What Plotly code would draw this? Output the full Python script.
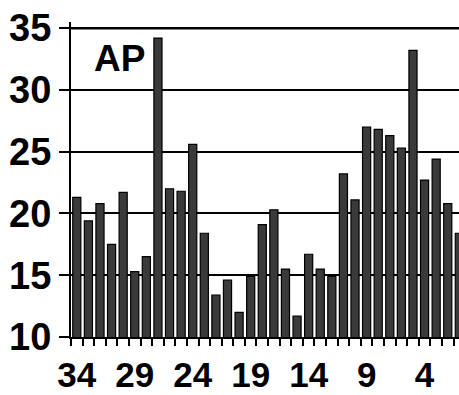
import plotly.graph_objects as go

# Categories run from 34 down to 1
categories = [str(n) for n in range(34, 0, -1)]
values = [21.3, 19.4, 20.8, 17.5, 21.7, 15.3, 16.5, 34.2, 22.0, 21.8,
          25.6, 18.4, 13.4, 14.6, 12.0, 14.9, 19.1, 20.3, 15.5, 11.7,
          16.7, 15.5, 14.9, 23.2, 21.1, 27.0, 26.8, 26.3, 25.3, 33.2,
          22.7, 24.4, 20.8, 18.4]
labelled = ["34", "29", "24", "19", "14", "9", "4"]
y_ticks = [10, 15, 20, 25, 30, 35]

tick_text = [c if c in labelled else "" for c in categories]

fig = go.Figure(
    go.Bar(
        x=categories,
        y=values,
        width=0.7,
        marker=dict(color="#3a3a3a", line=dict(color="black", width=1.2)),
    )
)

fig.add_annotation(
    text="AP", x=0.125, y=0.885, xref="paper", yref="paper",
    showarrow=False, xanchor="center", yanchor="middle",
    font=dict(family="Liberation Sans", size=37, color="black", weight="bold"),
)

# top rule at the upper end of the value scale
fig.add_shape(
    type="line", xref="x domain", x0=0, x1=1, yref="y", y0=y_ticks[-1], y1=y_ticks[-1],
    line=dict(color="black", width=2.5), layer="above",
)

fig.update_layout(
    width=459, height=395,
    margin=dict(l=71, r=0, t=22, b=58),
    paper_bgcolor="white", plot_bgcolor="white",
    showlegend=False,
    font=dict(family="Liberation Sans", color="black", weight="bold"),
)

fig.update_xaxes(
    type="category",
    range=[-0.5, 32.97],
    tickmode="array", tickvals=categories, ticktext=tick_text,
    tickson="boundaries", tickangle=0,
    ticks="outside", ticklen=7, tickwidth=2, tickcolor="black",
    ticklabelstandoff=6,
    showline=True, linecolor="black", linewidth=2,
    showgrid=False,
    tickfont=dict(size=35, family="Liberation Sans", weight="bold"),
)

fig.update_yaxes(
    range=[10, 35.5],
    tickmode="array", tickvals=y_ticks,
    ticks="outside", ticklen=10, tickwidth=2, tickcolor="black",
    showline=True, linecolor="black", linewidth=2,
    showgrid=True, gridcolor="black", gridwidth=2,
    zeroline=False,
    tickfont=dict(size=38, family="Liberation Sans", weight="bold"),
)

fig.write_html("out.html")
